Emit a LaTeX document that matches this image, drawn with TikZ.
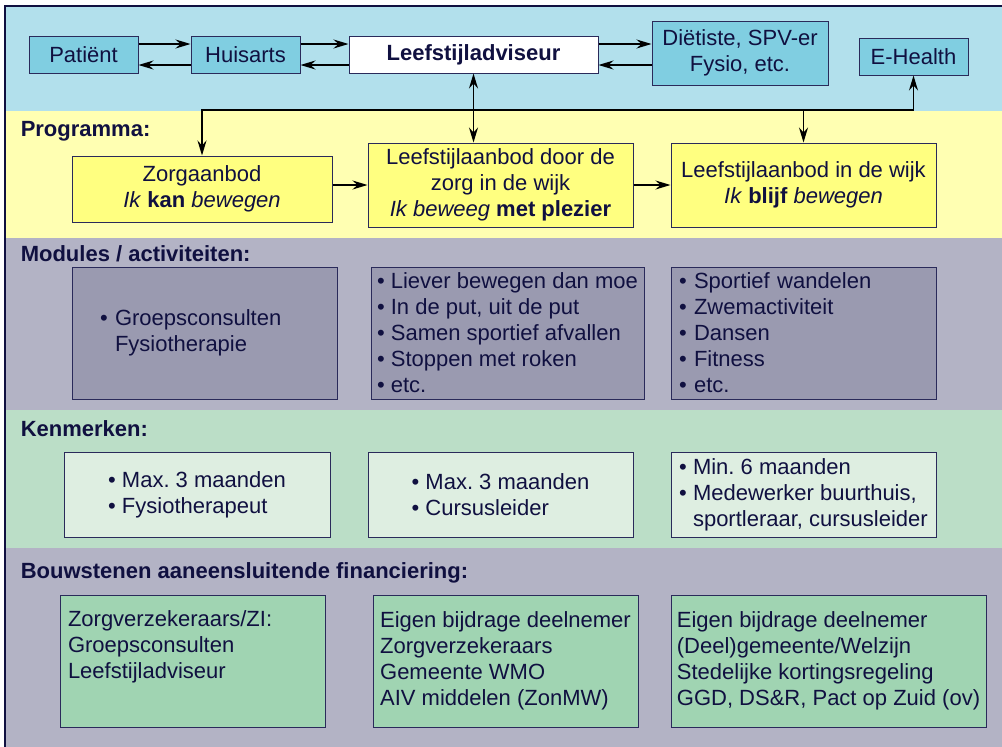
\documentclass[tikz,border=0pt]{standalone}
\usepackage{fontspec}
\setmainfont{Liberation Sans}
\usetikzlibrary{arrows.meta}
\tikzset{>={Stealth[length=15pt,width=9pt,inset=5pt]}}
\frenchspacing

\definecolor{navy}{HTML}{101040}
\definecolor{rim}{HTML}{2A2A5A}
\definecolor{blueband}{HTML}{B2E0EC}
\definecolor{bluebox}{HTML}{80CEE1}
\definecolor{yellowband}{HTML}{FFFFB2}
\definecolor{yellowbox}{HTML}{FFFF80}
\definecolor{greyband}{HTML}{B3B3C5}
\definecolor{modfill}{HTML}{9A9AB0}
\definecolor{greenband}{HTML}{BBDEC7}
\definecolor{kenfill}{HTML}{DEEEE1}
\definecolor{finfill}{HTML}{A0D4B2}

\newcommand\bul{\textbullet\ }
\newcommand\hang{\phantom{\textbullet\ }}

\begin{document}
\begin{tikzpicture}[x=1pt, y=-1pt, line width=1.5pt,
  every node/.style={text=navy, font=\fontsize{22}{26}\selectfont},
  box/.style={draw=rim, line width=1pt, inner sep=0pt},
  topbox/.style={box, fill=bluebox, minimum width=109pt, minimum height=37pt, align=center},
  progbox/.style={box, fill=yellowbox, minimum width=265pt, minimum height=84pt, align=center},
  modbox/.style={box, fill=modfill, minimum width=265pt, minimum height=132pt, align=left},
  kenbox/.style={box, fill=kenfill, minimum width=265pt, minimum height=85pt, align=left},
  finbox/.style={box, fill=finfill, minimum width=265pt, minimum height=132pt, align=left},
  heading/.style={anchor=base west, inner sep=0pt, font=\fontsize{22}{26}\selectfont\bfseries}]

  \clip (0,0) rectangle (1002,747);

  %% bands
  \fill[blueband]   (5,6)   rectangle (1010,111);
  \fill[yellowband] (5,111) rectangle (1010,238);
  \fill[greyband]   (5,238) rectangle (1010,410);
  \fill[greenband]  (5,410) rectangle (1010,548);
  \fill[greyband]   (5,548) rectangle (1010,760);
  \draw[navy, line width=1.2pt] (5,6) rectangle (1010,760);

  %% top row
  \node[topbox] (pat) at (83.5,54.5) {Patiënt};
  \node[topbox] (hui) at (245.5,54.5) {Huisarts};
  \node[topbox, fill=white, minimum width=249pt, font=\fontsize{22}{26}\selectfont\bfseries] (lsa) at (473.5,54.5) {Leefstijladviseur};
  \node[topbox, minimum width=176pt, minimum height=64pt] (diet) at (740,53) {Diëtiste, SPV-er\\Fysio, etc.};
  \node[topbox] (ehealth) at (913.5,56.5) {E-Health};

  \draw[->] ([yshift=10.5pt]pat.east) -- ([yshift=10.5pt]hui.west);
  \draw[->] ([yshift=-10.5pt]hui.west) -- ([yshift=-10.5pt]pat.east);
  \draw[->] ([yshift=10.5pt]hui.east) -- ([yshift=10.5pt]lsa.west);
  \draw[->] ([yshift=-10.5pt]lsa.west) -- ([yshift=-10.5pt]hui.east);
  \draw[->] ([yshift=10.5pt]lsa.east) -- ([yshift=10.5pt]lsa.east -| diet.west);
  \draw[->] ([yshift=-10.5pt]lsa.east -| diet.west) -- ([yshift=-10.5pt]lsa.east);

  %% programma
  \node[heading] (hprog) at (20,136.5) {Programma:};
  \node[progbox, minimum width=260pt, minimum height=66pt] (prog1) at (202,189)
    {Zorgaanbod\\\textit{Ik} \textbf{kan} \textit{bewegen}};
  \node[progbox] (prog2) at (500.5,185)
    {Leefstijlaanbod door de\\zorg in de wijk\\\textit{Ik beweeg} \textbf{met plezier}};
  \node[progbox] (prog3) at (803.5,185)
    {Leefstijlaanbod in de wijk\\\textit{Ik} \textbf{blijf} \textit{bewegen}};

  \coordinate (bus) at (0,110);
  \draw[<->] (prog1.north) -- (prog1.north |- bus) -- (ehealth.south |- bus) -- (ehealth.south);
  \draw[->] (prog3.north |- bus) -- (prog3.north);
  \draw[<->] (lsa.south) -- (lsa.south |- prog2.north);
  \draw[->] (prog1.east |- prog2.west) -- (prog2.west);
  \draw[->] (prog2) -- (prog3);

  %% modules
  \node[heading] (hmod) at (20,261) {Modules / activiteiten:};
  \node[modbox, text width=209pt] (mod1) at (204.5,333)
    {\bul Groepsconsulten\\\hang Fysiotherapie};
  \node[modbox, minimum width=273pt] (mod2) at (507.5,333)
    {\bul Liever bewegen dan moe\\\bul In de put, uit de put\\\bul Samen sportief afvallen\\\bul Stoppen met roken\\\bul etc.};
  \node[modbox, text width=249pt] (mod3) at (803.5,333)
    {\bul Sportief wandelen\\\bul Zwemactiviteit\\\bul Dansen\\\bul Fitness\\\bul etc.};

  %% kenmerken
  \node[heading] (hken) at (20,436) {Kenmerken:};
  \node[kenbox, minimum width=266pt] (ken1) at (197,494.5)
    {\bul Max. 3 maanden\\\bul Fysiotherapeut};
  \node[kenbox] (ken2) at (500.5,494.5)
    {\bul Max. 3 maanden\\\bul Cursusleider};
  \node[kenbox] (ken3) at (803.5,494.5)
    {\bul Min. 6 maanden\\\bul Medewerker buurthuis,\\\hang sportleraar, cursusleider};

  %% bouwstenen
  \node[heading] (hfin) at (20,578) {Bouwstenen aaneensluitende financiering:};
  \node[finbox, text width=249pt] (fin1) at (192.5,661)
    {Zorgverzekeraars/ZI:\\Groepsconsulten\\Leefstijladviseur\\\strut};
  \node[finbox] (fin2) at (505.5,661)
    {Eigen bijdrage deelnemer\\Zorgverzekeraars\\Gemeente WMO\\AIV middelen (ZonMW)};
  \node[finbox, minimum width=315pt] (fin3) at (828.5,661)
    {Eigen bijdrage deelnemer\\(Deel)gemeente/Welzijn\\Stedelijke kortingsregeling\\GGD, DS\&R, Pact op Zuid (ov)};

\end{tikzpicture}
\end{document}
